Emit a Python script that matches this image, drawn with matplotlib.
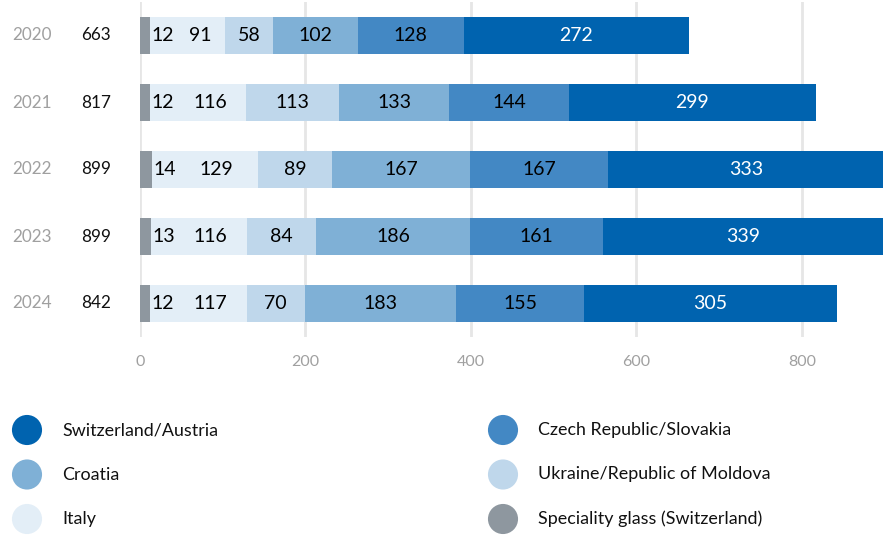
import matplotlib
matplotlib.use("Agg")
import matplotlib.pyplot as plt
import matplotlib.transforms as mtransforms
import numpy as np

plt.rcParams['font.family'] = ['Lato', 'DejaVu Sans']

years = ["2020", "2021", "2022", "2023", "2024"]
totals = [663, 817, 899, 899, 842]
series_names = ["Speciality glass (Switzerland)", "Italy", "Ukraine/Republic of Moldova",
                "Croatia", "Czech Republic/Slovakia", "Switzerland/Austria"]
speciality = [12, 12, 14, 13, 12]
italy = [91, 116, 129, 116, 117]
ukraine = [58, 113, 89, 84, 70]
croatia = [102, 133, 167, 186, 183]
czech = [128, 144, 167, 161, 155]
swiss = [272, 299, 333, 339, 305]
colors = ["#8E979F", "#E3EEF7", "#BFD7EB", "#7FB0D6", "#4388C4", "#0063AF"]
text_colors = ["black", "black", "black", "black", "black", "white"]
xticks = [0, 200, 400, 600, 800]

W, H = 883, 535
fig = plt.figure(figsize=(W / 100, H / 100), dpi=100)
ax = fig.add_axes([140 / W, 1 - 337 / H, (W - 140) / W, 335 / H])
ax.set_xlim(0, 898)
ax.set_ylim(len(years) - 0.5, -0.5)

data = [speciality, italy, ukraine, croatia, czech, swiss]
y = np.arange(len(years))
left = np.zeros(len(years))
for vals, col, tc in zip(data, colors, text_colors):
    ax.barh(y, vals, left=left, height=0.54, color=col, zorder=2)
    left = left + np.array(vals)

# value labels
for i in range(len(years)):
    cum = 0
    for k, (vals, tc) in enumerate(zip(data, text_colors)):
        v = vals[i]
        if k == 0:
            ax.text(cum + v + 2, i, str(v), ha='left', va='center', fontsize=14, color=tc, zorder=3)
        elif k == 1:
            ax.text((42 + cum + v) / 2, i, str(v), ha='center', va='center', fontsize=14, color=tc, zorder=3)
        else:
            ax.text(cum + v / 2, i, str(v), ha='center', va='center', fontsize=14, color=tc, zorder=3)
        cum += v

for xt in xticks:
    ax.axvline(xt, color="#E6E6E6", lw=2, zorder=1)
ax.set_xticks(xticks)
ax.set_xticklabels([str(t) for t in xticks], color="#A0A0A0", fontsize=11.5)
ax.tick_params(axis='x', length=0, pad=13)
ax.set_yticks([])
for s in ax.spines.values():
    s.set_visible(False)

trans = mtransforms.blended_transform_factory(fig.transFigure, ax.transData)
for i, (yr, tot) in enumerate(zip(years, totals)):
    ax.text(12 / W, i, yr, transform=trans, ha='left', va='center', fontsize=12.3, color="#A0A0A0")
    ax.text(96 / W, i, str(tot), transform=trans, ha='center', va='center', fontsize=12.3, color="#111111")

# legend
lax = fig.add_axes([0, 0, 1, 1])
lax.set_xlim(0, W)
lax.set_ylim(H, 0)
lax.axis('off')
lax.patch.set_alpha(0)
legend_order = [5, 3, 1, 4, 2, 0]
for n, idx in enumerate(legend_order):
    col_i = n // 3
    row_i = n % 3
    cx = 27 if col_i == 0 else 503
    cy = 430 + row_i * 44.5
    lax.scatter([cx], [cy], s=470, color=colors[idx], edgecolors='none')
    lax.text(cx + 35, cy, series_names[idx], ha='left', va='center', fontsize=12.9, color="#111111")

fig.savefig("out.png", dpi=100)
